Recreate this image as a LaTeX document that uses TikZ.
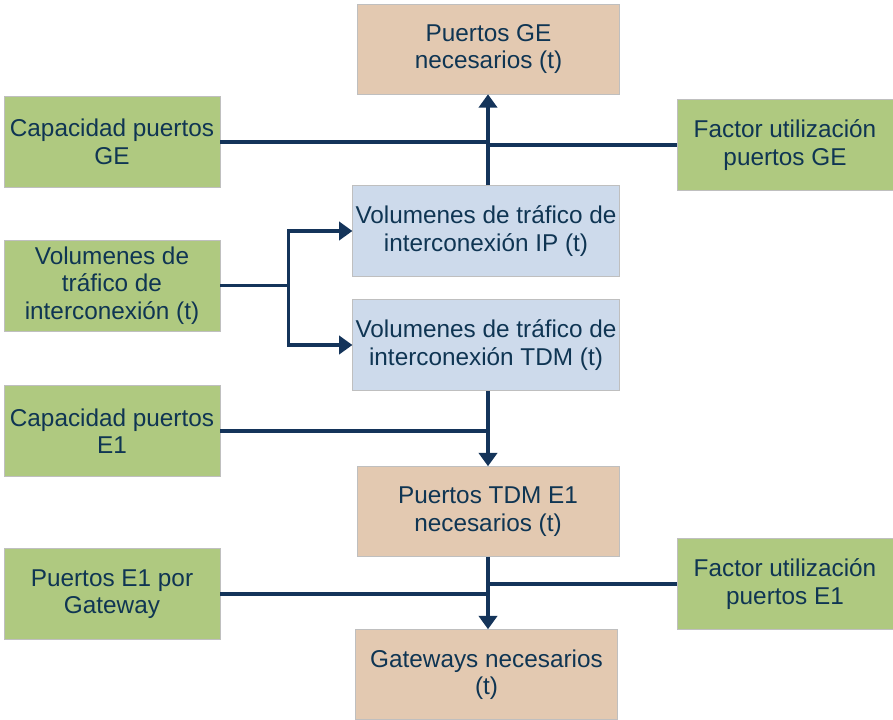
\documentclass[tikz,border=0pt]{standalone}
\usepackage{fontspec}
\setmainfont{Liberation Sans}
\usetikzlibrary{arrows.meta}

\definecolor{verde}{HTML}{AFC980}
\definecolor{azul}{HTML}{CDDAEB}
\definecolor{ocre}{HTML}{E3C9B1}
\definecolor{tinta}{HTML}{0F3553}
\definecolor{linea}{HTML}{14345A}

\tikzset{
	caja/.style={draw=black!25, thin, align=center, text=tinta, inner sep=2pt,
		font=\fontsize{17.3}{19.5}\selectfont},
	entrada/.style={caja, fill=verde, minimum width=5.4cm, minimum height=2.28cm},
	calculo/.style={caja, fill=azul, minimum width=6.6cm, minimum height=2.28cm},
	salida/.style={caja, fill=ocre, minimum width=6.55cm, minimum height=2.25cm},
	flujo/.style={draw=linea, line width=2.3pt},
	flecha/.style={flujo, -{Triangle[width=13pt,length=9.5pt]}}
}

\begin{document}
\begin{tikzpicture}[x=0.025cm, y=-0.025cm]
	\useasboundingbox (0,0) rectangle (893,719);
	
	\node[salida] (pge) at (488.5,49) {Puertos GE\\necesarios (t)};
	\node[entrada] (capge) at (112,142) {Capacidad puertos\\GE};
	\node[entrada] (factge) at (785,145) {Factor utilización\\puertos GE};
	\node[calculo] (volip) at (486,231) {Volumenes de tráfico de\\interconexión IP (t)};
	\node[entrada] (volint) at (112,285.5) {Volumenes de\\tráfico de\\interconexión (t)};
	\node[calculo] (voltdm) at (486,345) {Volumenes de tráfico de\\interconexión TDM (t)};
	\node[entrada] (cape1) at (112,431) {Capacidad puertos\\E1};
	\node[salida] (pe1) at (488,511.5) {Puertos TDM E1\\necesarios (t)};
	\node[entrada] (pgw) at (112,594) {Puertos E1 por\\Gateway};
	\node[entrada] (facte1) at (785,584) {Factor utilización\\puertos E1};
	\node[salida] (gw) at (486.5,674.5) {Gateways necesarios\\(t)};
	
	% puertos GE
	\draw[flecha] (488,0 |- volip.north) coordinate (ge) -- (ge |- pge.south);
	\draw[flujo] (capge.east) -- (capge.east -| ge);
	\draw[flujo] (factge.west) -- (factge.west -| ge);
	
	% reparto del trafico
	\draw[flujo] (volint.east) -- ++(68,0) coordinate (split);
	\draw[flecha] (split) |- (volip.west);
	\draw[flecha] (split) |- (voltdm.west);
	
	% puertos E1
	\draw[flecha] (488,0 |- voltdm.south) coordinate (tdm) -- (tdm |- pe1.north);
	\draw[flujo] (cape1.east) -- (cape1.east -| tdm);
	
	% gateways
	\draw[flecha] (488,0 |- pe1.south) coordinate (gwe) -- (gwe |- gw.north);
	\draw[flujo] (pgw.east) -- (pgw.east -| gwe);
	\draw[flujo] (facte1.west) -- (facte1.west -| gwe);
\end{tikzpicture}
\end{document}
